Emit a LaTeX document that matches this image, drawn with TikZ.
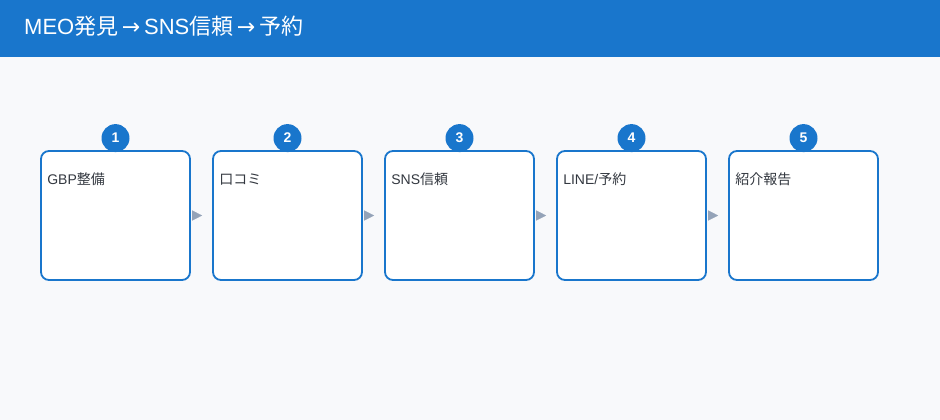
\documentclass[tikz,border=0pt]{standalone}
\usepackage{fontspec}
\setmainfont{Noto Sans CJK JP}
\newfontfamily\lat{Liberation Sans}
\newfontfamily\arrowfont{DejaVu Sans}
\usetikzlibrary{arrows.meta}
\definecolor{headblue}{HTML}{1976CC}
\definecolor{pagebg}{HTML}{F8F9FB}
\definecolor{labelgray}{HTML}{333840}
\definecolor{arrowgray}{HTML}{94A3B8}
\newcommand{\titlearrow}{{\arrowfont\,→\,}}

\begin{document}
\begin{tikzpicture}[x=1pt, y=-1pt, line join=round,
  stepbox/.style={draw=headblue, line width=1.8pt, fill=white, rounded corners=8pt,
    minimum width=149pt, minimum height=129pt, inner sep=0pt},
  badge/.style={circle, fill=headblue, minimum size=28pt, inner sep=0pt,
    text=white, font=\fontsize{14}{14}\selectfont\lat\bfseries},
  steplabel/.style={anchor=west, inner sep=0pt, text=labelgray,
    font=\fontsize{14}{14}\selectfont},
  flow/.style={draw=arrowgray, line width=0.1pt, shorten <=2pt, shorten >=10pt,
    -{Triangle[length=10pt, width=10pt, fill=arrowgray]}}]
\useasboundingbox (0,0) rectangle (940,420);
\fill[pagebg] (0,0) rectangle (940,420);
\fill[headblue] (0,0) rectangle (940,57);
\node[anchor=west, inner sep=0pt, text=white, font=\fontsize{22}{22}\selectfont]
  (title) at (24,26) {{\lat MEO}発見\titlearrow{\lat SNS}信頼\titlearrow 予約};

\foreach \i/\txt in {1/{{\lat GBP}整備}, 2/口コミ, 3/{{\lat SNS}信頼},
    4/{{\lat LINE/}予約}, 5/紹介報告} {
  \node[stepbox] (b\i) at ({115.5+172*(\i-1)},215.5) {};
  \node[steplabel] (l\i) at ([xshift=7pt, yshift=-29pt]b\i.north west) {\txt};
  \node[badge] (n\i) at ([yshift=12pt]b\i.north) {\i};
}
\foreach \a/\b in {1/2, 2/3, 3/4, 4/5}
  \draw[flow] (b\a.east) -- (b\b.west);
\end{tikzpicture}
\end{document}
